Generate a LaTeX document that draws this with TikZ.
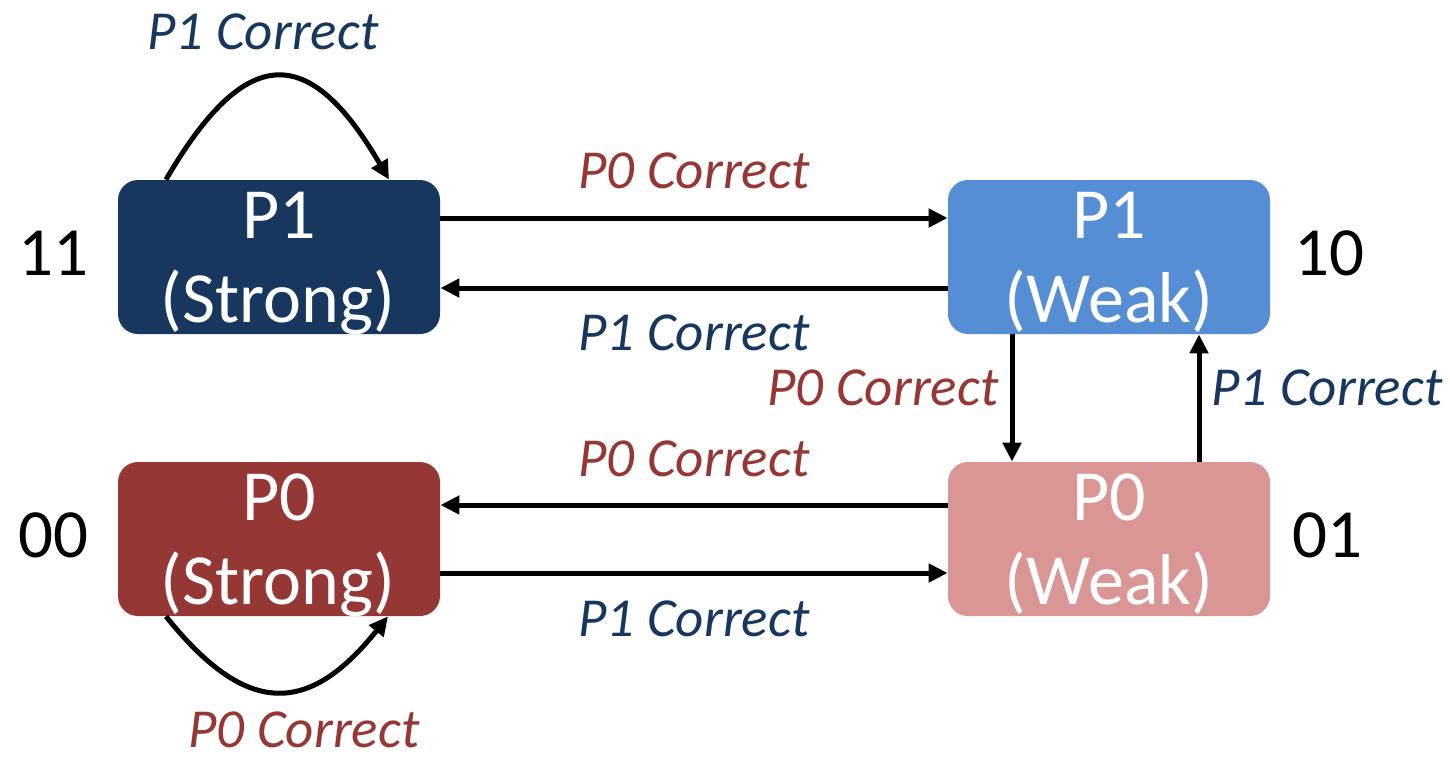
\documentclass[tikz,border=0pt]{standalone}
\usepackage{fontspec}
\setmainfont{Carlito}
\usetikzlibrary{arrows.meta}
\definecolor{navy}{HTML}{17375E}
\definecolor{skyblue}{HTML}{558ED5}
\definecolor{brick}{HTML}{953735}
\definecolor{rose}{HTML}{D99694}
\tikzset{
  statebox/.style={rounded corners=10pt, minimum width=161pt, minimum height=77pt, inner sep=0pt, draw=none},
  statetext/.style={text=white, font=\fontsize{36}{42}\selectfont, anchor=base, inner sep=0pt},
  code/.style={font=\fontsize{34.5}{40}\selectfont, anchor=base, inner sep=0pt},
  lbl/.style={font=\fontsize{27.5}{32}\selectfont\itshape, anchor=base, inner sep=0pt},
  lblzero/.style={lbl, text=brick},
  lblone/.style={lbl, text=navy},
  edge/.style={line width=2.5pt, -{Triangle[length=9.5pt,width=9pt]}},
}
\begin{document}
\begin{tikzpicture}[x=0.5pt,y=-0.5pt]
\useasboundingbox (0,0) rectangle (1450,756);

% states
\node[statebox, fill=navy]    (s11) at (279,257) {};
\node[statebox, fill=skyblue] (s10) at (1109,257) {};
\node[statebox, fill=brick]   (s00) at (279,539) {};
\node[statebox, fill=rose]    (s01) at (1109,539) {};

\node[statetext] (s11a) at (279,238) {P1};
\node[statetext] (s11b) at (278,322) {(Strong)};
\node[statetext] (s10a) at (1109,238) {P1};
\node[statetext] (s10b) at (1109,322) {(Weak)};
\node[statetext] (s00a) at (279,520) {P0};
\node[statetext] (s00b) at (278,604) {(Strong)};
\node[statetext] (s01a) at (1109,520) {P0};
\node[statetext] (s01b) at (1109,604) {(Weak)};

% state codes
\node[code] (c11) at (53,275) {11};
\node[code] (c10) at (1329,275) {10};
\node[code] (c00) at (53,557) {00};
\node[code] (c01) at (1327,557) {01};

% horizontal transitions
\draw[edge] ([yshift=19.5pt]s11.east) -- ([yshift=19.5pt]s10.west);
\draw[edge] ([yshift=-15.5pt]s10.west) -- ([yshift=-15.5pt]s11.east);
\draw[edge] ([yshift=17pt]s01.west) -- ([yshift=17pt]s00.west -| s00.east);
\draw[edge] ([yshift=-17pt]s00.east) -- ([yshift=-17pt]s01.west);

% vertical transitions
\draw[edge] ([xshift=-48.5pt]s10.south) -- ([xshift=-48.5pt]s01.north);
\draw[edge] ([xshift=45pt]s01.north) -- ([xshift=45pt]s10.south);

% self loops
\draw[edge] ([xshift=-56.5pt]s11.north) .. controls +(80,-137) and +(-80,-137) .. ([xshift=55pt]s11.north);
\draw[edge] ([xshift=-56.5pt]s00.south) .. controls +(80,100) and +(-80,100) .. ([xshift=54.5pt]s00.south);

% transition labels
\node[lblone]  (l1) at (263,49) {P1 Correct};
\node[lblzero] (l2) at (694,188) {P0 Correct};
\node[lblone]  (l3) at (694,350) {P1 Correct};
\node[lblzero] (l4) at (883,405) {P0 Correct};
\node[lblone]  (l5) at (1327,405) {P1 Correct};
\node[lblzero] (l6) at (694,476) {P0 Correct};
\node[lblone]  (l7) at (694,636) {P1 Correct};
\node[lblzero] (l8) at (304,747) {P0 Correct};
\end{tikzpicture}
\end{document}
